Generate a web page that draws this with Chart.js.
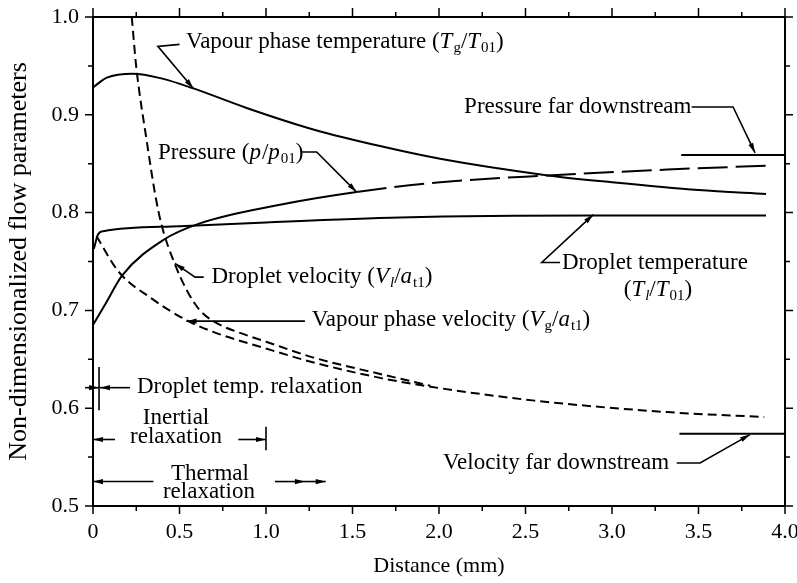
<!DOCTYPE html>
<html>
<head>
<meta charset="utf-8">
<script src="https://cdn.jsdelivr.net/npm/chart.js@4/dist/chart.umd.min.js"></script>
<style>
  html, body { margin: 0; padding: 0; background: #fff; }
  #wrap { width: 797px; height: 583px; }
</style>
</head>
<body>
<div id="wrap"><canvas id="chart" width="797" height="583"></canvas></div>
<script>
// tick labels
const xTickLabels = ['0', '0.5', '1.0', '1.5', '2.0', '2.5', '3.0', '3.5', '4.0'];
const yTickLabels = ['0.5', '0.6', '0.7', '0.8', '0.9', '1.0'];

// vapour phase temperature Tg/T01
const tgX = [0, 0.08, 0.23, 0.4, 0.58, 0.888, 1.274, 1.659, 2.006, 2.63, 3.0, 3.5, 3.89];
const tgY = [0.928, 0.938, 0.942, 0.937, 0.927, 0.907, 0.885, 0.868, 0.855, 0.838, 0.831, 0.823, 0.819];

// pressure p/p01
const pX = [0, 0.07, 0.17, 0.406, 0.618, 1.081, 1.524, 2.006, 2.63, 3.32, 3.89];
const pY = [0.685, 0.706, 0.736, 0.772, 0.789, 0.808, 0.821, 0.831, 0.838, 0.844, 0.848];

// droplet temperature Tl/T01
const tlX = [0.005, 0.03, 0.06, 0.5, 1.0, 1.775, 2.89, 3.89];
const tlY = [0.763, 0.778, 0.781, 0.786, 0.790, 0.795, 0.797, 0.797];

// vapour phase velocity Vg/at1
const vgX = [0.02, 0.146, 0.34, 0.54, 0.695, 1.0, 1.27, 1.66, 1.95, 2.54, 3.32, 3.88];
const vgY = [0.776, 0.740, 0.712, 0.690, 0.678, 0.661, 0.647, 0.631, 0.622, 0.608, 0.596, 0.591];

// droplet velocity Vl/at1
const vlX = [0.224, 0.25, 0.31, 0.36, 0.397, 0.474, 0.541, 0.618, 0.715, 0.85, 1.0, 1.27, 1.66, 1.95];
const vlY = [1.0, 0.949, 0.874, 0.818, 0.787, 0.747, 0.721, 0.700, 0.687, 0.677, 0.668, 0.652, 0.635, 0.623];

// far downstream levels
const pFarX = [3.4, 4.0];
const pFarY = [0.859, 0.859];
const vFarX = [3.39, 4.0];
const vFarY = [0.574, 0.574];

const SERIF = '"Liberation Serif", "Times New Roman", serif';
Chart.defaults.font.family = SERIF;
Chart.defaults.color = '#000';

function pts(xs, ys) {
  return xs.map((x, i) => ({ x: x, y: ys[i] }));
}

function line(xs, ys, extra) {
  return Object.assign({
    data: pts(xs, ys),
    borderColor: '#000',
    borderWidth: 2,
    pointRadius: 0,
    fill: false,
    cubicInterpolationMode: 'monotone'
  }, extra || {});
}

// labels: runs are [text, style] where style: '' normal, 'i' italic, 's' subscript, 'is' italic subscript
const notes = [
  { x: 0.538, y: 0.974, runs: [['Vapour phase temperature ('], ['T', 'i'], ['g', 's'], ['/'], ['T', 'i'], ['01', 's'], [')']] },
  { x: 0.376, y: 0.861, runs: [['Pressure ('], ['p', 'i'], ['/'], ['p', 'i'], ['01', 's'], [')']] },
  { x: 0.685, y: 0.734, runs: [['Droplet velocity ('], ['V', 'i'], ['l', 'is'], ['/'], ['a', 'i'], ['t1', 's'], [')']] },
  { x: 1.264, y: 0.690, runs: [['Vapour phase velocity ('], ['V', 'i'], ['g', 's'], ['/'], ['a', 'i'], ['t1', 's'], [')']] },
  { x: 2.711, y: 0.749, runs: [['Droplet temperature']] },
  { x: 3.26, y: 0.721, align: 'center', runs: [['('], ['T', 'i'], ['l', 'is'], ['/'], ['T', 'i'], ['01', 's'], [')']] },
  { x: 2.145, y: 0.908, runs: [['Pressure far downstream']] },
  { x: 2.023, y: 0.544, runs: [['Velocity far downstream']] },
  { x: 0.254, y: 0.622, runs: [['Droplet temp. relaxation']] },
  { x: 0.48, y: 0.590, align: 'center', runs: [['Inertial']] },
  { x: 0.48, y: 0.571, align: 'center', runs: [['relaxation']] },
  { x: 0.676, y: 0.533, align: 'center', runs: [['Thermal']] },
  { x: 0.67, y: 0.514, align: 'center', runs: [['relaxation']] }
];

// leader lines, arrowhead at the last point when arrow is set
const leaders = [
  { p: [[0.50, 0.972], [0.375, 0.970], [0.58, 0.927]], arrow: true },
  { p: [[1.206, 0.862], [1.293, 0.862], [1.524, 0.821]], arrow: true },
  { p: [[0.64, 0.734], [0.59, 0.734], [0.474, 0.748]], arrow: true },
  { p: [[1.225, 0.689], [0.541, 0.689]], arrow: true },
  { p: [[2.70, 0.749], [2.594, 0.749], [2.892, 0.798]], arrow: true },
  { p: [[3.46, 0.908], [3.70, 0.908], [3.827, 0.861]], arrow: true },
  { p: [[3.374, 0.544], [3.509, 0.544], [3.798, 0.573]], arrow: true },
  // droplet temp. relaxation
  { p: [[-0.046, 0.621], [0.035, 0.621]], arrow: true },
  { p: [[0.214, 0.621], [0.04, 0.621]], arrow: true },
  { p: [[0.035, 0.642], [0.035, 0.598]] },
  // inertial relaxation
  { p: [[0.127, 0.568], [0.0, 0.568]], arrow: true },
  { p: [[0.84, 0.568], [1.0, 0.568]], arrow: true },
  { p: [[1.0, 0.581], [1.0, 0.557]] },
  // thermal relaxation
  { p: [[0.349, 0.525], [0.0, 0.525]], arrow: true },
  { p: [[1.052, 0.525], [1.225, 0.525]], arrow: true },
  { p: [[1.225, 0.525], [1.345, 0.525]], arrow: true }
];

function arrowHead(ctx, x0, y0, x1, y1) {
  const a = Math.atan2(y1 - y0, x1 - x0);
  const len = 10, w = 2.6;
  ctx.save();
  ctx.translate(x1, y1);
  ctx.rotate(a);
  ctx.beginPath();
  ctx.moveTo(0, 0);
  ctx.lineTo(-len, -w);
  ctx.lineTo(-len, w);
  ctx.closePath();
  ctx.fill();
  ctx.restore();
}

const annotate = {
  id: 'annotate',
  afterDatasetsDraw(chart) {
    const { ctx, scales } = chart;
    const sx = scales.x, sy = scales.y;
    ctx.save();
    ctx.strokeStyle = '#000';
    ctx.fillStyle = '#000';
    ctx.lineWidth = 1.6;
    leaders.forEach(l => {
      const q = l.p.map(p => [sx.getPixelForValue(p[0]), sy.getPixelForValue(p[1])]);
      ctx.beginPath();
      q.forEach((p, i) => i ? ctx.lineTo(p[0], p[1]) : ctx.moveTo(p[0], p[1]));
      ctx.stroke();
      if (l.arrow) {
        const a = q[q.length - 2], b = q[q.length - 1];
        arrowHead(ctx, a[0], a[1], b[0], b[1]);
      }
    });
    ctx.textBaseline = 'middle';
    ctx.textAlign = 'left';
    const fontFor = s => {
      const size = s.indexOf('s') >= 0 ? 15 : 23;
      return (s.indexOf('i') >= 0 ? 'italic ' : '') + size + 'px ' + SERIF;
    };
    notes.forEach(n => {
      let w = 0;
      n.runs.forEach(r => { ctx.font = fontFor(r[1] || ''); w += ctx.measureText(r[0]).width; });
      let px = sx.getPixelForValue(n.x);
      const py = sy.getPixelForValue(n.y);
      if (n.align === 'center') px -= w / 2;
      n.runs.forEach(r => {
        const s = r[1] || '';
        ctx.font = fontFor(s);
        ctx.fillText(r[0], px, s.indexOf('s') >= 0 ? py + 6 : py);
        px += ctx.measureText(r[0]).width + (s === 'i' ? 1 : 0);
      });
    });
    ctx.restore();
  }
};

// outward tick marks on all four sides, major at labelled values
const frameTicks = {
  id: 'frameTicks',
  afterDraw(chart) {
    const { ctx, chartArea: a, scales } = chart;
    const sx = scales.x, sy = scales.y;
    ctx.save();
    ctx.strokeStyle = '#000';
    ctx.lineWidth = 1.5;
    ctx.beginPath();
    for (let k = 0; k <= 16; k++) {
      const px = sx.getPixelForValue(k * 0.25);
      const major = k % 2 === 0;
      ctx.moveTo(px, a.bottom); ctx.lineTo(px, a.bottom + (major ? 8 : 5));
      ctx.moveTo(px, a.top); ctx.lineTo(px, a.top - (major ? 9 : 5));
    }
    for (let k = 0; k <= 10; k++) {
      const py = sy.getPixelForValue(0.5 + k * 0.05);
      const major = k % 2 === 0;
      ctx.moveTo(a.left, py); ctx.lineTo(a.left - (major ? 8 : 5), py);
      ctx.moveTo(a.right, py); ctx.lineTo(a.right + (major ? 8 : 5), py);
    }
    ctx.stroke();
    ctx.restore();
  }
};

const border = { display: true, color: '#000', width: 2 };

// fixed axis boxes so the plot area sits where the original frame is
const fixX = h => s => { s.height = h; s.paddingLeft = 0; s.paddingRight = 0; };
const fixY = w => s => { s.width = w; s.paddingTop = 0; s.paddingBottom = 0; };

new Chart(document.getElementById('chart'), {
  type: 'line',
  data: {
    datasets: [
      line(tgX, tgY),
      line(pX, pY, { segment: { borderDash: c => c.p0.parsed.x >= 1.5 ? [30, 8] : undefined } }),
      line(tlX, tlY),
      line(vgX, vgY, { borderDash: [9, 5] }),
      line(vlX, vlY, { borderDash: [9, 5] }),
      line(pFarX, pFarY, { cubicInterpolationMode: 'default', tension: 0 }),
      line(vFarX, vFarY, { cubicInterpolationMode: 'default', tension: 0 })
    ]
  },
  options: {
    responsive: false,
    animation: false,
    devicePixelRatio: 1,
    layout: { padding: 0 },
    plugins: { legend: { display: false }, tooltip: { enabled: false } },
    scales: {
      x: {
        type: 'linear', position: 'bottom', min: 0, max: 4,
        ticks: {
          stepSize: 0.5, autoSkip: false, maxRotation: 0, padding: 13,
          font: { size: 22 }, color: '#000',
          callback: (v, i) => xTickLabels[i]
        },
        grid: { display: false, drawTicks: false },
        border: border,
        title: { display: true, text: 'Distance (mm)', font: { size: 22 }, color: '#000', padding: { top: 0, bottom: 4 } },
        afterFit: fixX(77)
      },
      x2: {
        type: 'linear', position: 'top', min: 0, max: 4,
        ticks: { display: false },
        grid: { display: false, drawTicks: false },
        border: border,
        afterFit: fixX(17)
      },
      y: {
        type: 'linear', position: 'left', min: 0.5, max: 1.0,
        ticks: {
          stepSize: 0.1, autoSkip: false, padding: 14,
          font: { size: 22 }, color: '#000',
          callback: (v, i) => yTickLabels[i]
        },
        grid: { display: false, drawTicks: false },
        border: border,
        title: { display: true, text: 'Non-dimensionalized flow parameters', font: { size: 26 }, color: '#000', padding: { top: 4, bottom: 0 } },
        afterFit: fixY(93)
      },
      y2: {
        type: 'linear', position: 'right', min: 0.5, max: 1.0,
        ticks: { display: false },
        grid: { display: false, drawTicks: false },
        border: border,
        afterFit: fixY(12)
      }
    }
  },
  plugins: [annotate, frameTicks]
});
</script>
</body>
</html>
